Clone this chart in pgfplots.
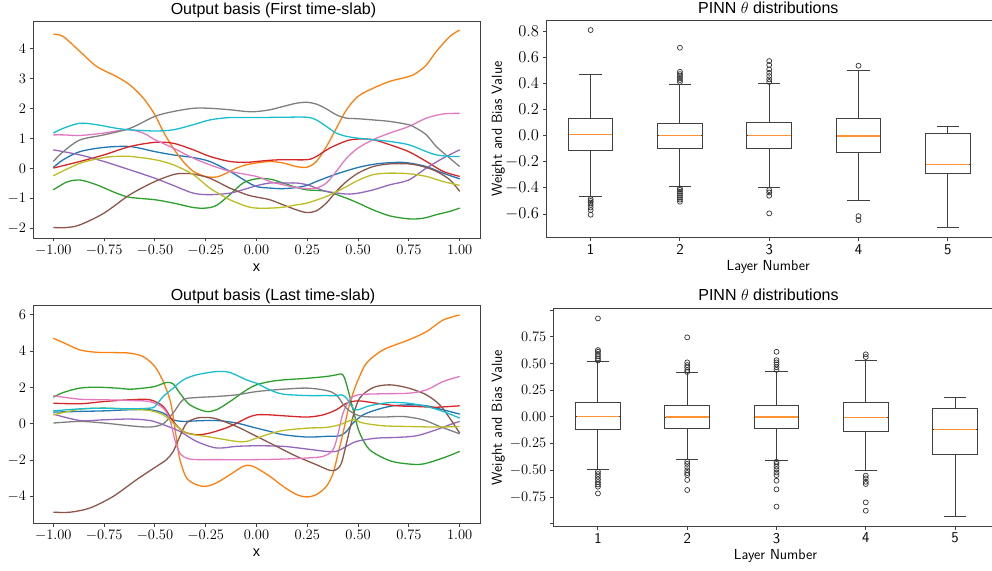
\RequirePackage{fix-cm}
\documentclass[border=0pt]{standalone}
\usepackage{fontspec}
\newfontfamily\arial{Liberation Sans}
\usepackage{pgfplots}
\usepgfplotslibrary{statistics}
\pgfplotsset{compat=1.18}
\definecolor{c0}{HTML}{1F77B4}
\definecolor{c1}{HTML}{FF7F0E}
\definecolor{c2}{HTML}{2CA02C}
\definecolor{c3}{HTML}{D62728}
\definecolor{c4}{HTML}{9467BD}
\definecolor{c5}{HTML}{8C564B}
\definecolor{c6}{HTML}{E377C2}
\definecolor{c7}{HTML}{7F7F7F}
\definecolor{c8}{HTML}{BCBD22}
\definecolor{c9}{HTML}{17BECF}
\pgfplotsset{
  myaxis/.style={scale only axis, anchor=south west,
    axis line style={draw=black!75, line width=0.9pt},
    every tick/.style={black!75, line width=0.9pt},
    tick align=outside, major tick length=3.5pt,
    xtick pos=lower, ytick pos=left,
    tick label style={font=\fontsize{14.5}{15}\selectfont},
    every axis title shift=0pt,
    title style={font=\arial\fontsize{16}{18}\selectfont, anchor=base, yshift=0pt, inner sep=0pt},
  },
  lineaxis/.style={myaxis, width=447pt, height=217pt, xmin=-1.1, xmax=1.1,
    xtick={-1,-0.75,-0.5,-0.25,0,0.25,0.5,0.75,1},
    xticklabel style={/pgf/number format/.cd, fixed, fixed zerofill, precision=2},
    xlabel={x}, xlabel style={font=\arial\fontsize{14.5}{15}\selectfont, anchor=center},
  },
  ln/.style={line width=1.3pt, smooth},
  boxaxis/.style={myaxis, width=446.4pt, height=217.7pt, xmin=0.5, xmax=5.5,
    boxplot/draw direction=y,
    xtick={1,2,3,4,5}, xticklabels={1,2,3,4,5},
    xticklabel style={font=\sffamily\fontsize{15}{15}\selectfont},
    xlabel={Layer Number}, ylabel={Weight and Bias Value},
    label style={font=\sffamily\fontsize{14.5}{15}\selectfont},
    title={\arial PINN $\theta$ distributions},
  },
  bp/.style={draw=black!75, line width=1pt, mark=o, mark size=2.5pt,
    mark options={line width=0.7pt, draw=black!80, fill=none}},
  med/.style={draw=c1!85, line width=1.3pt, forget plot},
}
\begin{document}
\begin{tikzpicture}[x=1pt,y=1pt]
\useasboundingbox (0,0) rectangle (992,570);
\clip (0,0) rectangle (992,570);

% ---------------- top left ----------------
\begin{axis}[lineaxis, at={(33pt,332pt)}, ymin=-2.33, ymax=4.93,
  ytick={-2,-1,0,1,2,3,4},
  title={Output basis (First time-slab)},
  title style={at={(axis description cs:0.538,1.028)}},
  xlabel style={at={(axis description cs:0.5,-0.138)}}]
\addplot[c0, ln] coordinates {(-1,0.03) (-0.951,0.29) (-0.869,0.56) (-0.751,0.7) (-0.623,0.73) (-0.5,0.56) (-0.41,0.45) (-0.311,0.36) (-0.23,0.23) (-0.131,-0.1) (-0.049,-0.44) (0,-0.61) (0.066,-0.66) (0.131,-0.68) (0.197,-0.64) (0.249,-0.57) (0.295,-0.44) (0.393,-0.19) (0.5,0.03) (0.590,0.15) (0.689,0.2) (0.749,0.18) (0.836,0.06) (0.918,-0.16) (1,-0.35)};
\addplot[c1, ln] coordinates {(-1,4.49) (-0.951,4.41) (-0.869,3.91) (-0.787,3.41) (-0.689,3.07) (-0.623,2.79) (-0.557,2.35) (-0.5,1.79) (-0.459,1.23) (-0.41,0.68) (-0.361,0.23) (-0.311,-0.1) (-0.251,-0.27) (-0.197,-0.29) (-0.148,-0.16) (-0.098,0.01) (-0.049,0.12) (0,0.18) (0.066,0.23) (0.131,0.18) (0.197,0.06) (0.249,0.04) (0.295,0.23) (0.344,0.73) (0.393,1.34) (0.443,1.96) (0.5,2.41) (0.574,2.68) (0.656,2.91) (0.749,3.07) (0.787,3.19) (0.836,3.46) (0.885,3.91) (0.951,4.41) (1,4.63)};
\addplot[c2, ln] coordinates {(-1,-0.72) (-0.934,-0.46) (-0.869,-0.39) (-0.787,-0.55) (-0.689,-0.83) (-0.623,-0.97) (-0.5,-1.05) (-0.41,-1.16) (-0.311,-1.31) (-0.251,-1.33) (-0.197,-1.24) (-0.131,-0.88) (-0.066,-0.49) (0,-0.35) (0.066,-0.36) (0.131,-0.49) (0.197,-0.64) (0.249,-0.72) (0.344,-0.77) (0.443,-1.0) (0.5,-1.16) (0.574,-1.39) (0.656,-1.59) (0.749,-1.69) (0.820,-1.67) (0.885,-1.55) (0.951,-1.44) (1,-1.33)};
\addplot[c3, ln] coordinates {(-1,0.01) (-0.869,0.23) (-0.751,0.45) (-0.623,0.73) (-0.5,0.87) (-0.41,0.84) (-0.311,0.62) (-0.23,0.4) (-0.131,0.23) (-0.049,0.2) (0,0.23) (0.066,0.27) (0.131,0.29) (0.249,0.29) (0.295,0.4) (0.361,0.68) (0.443,0.92) (0.5,0.98) (0.574,0.96) (0.656,0.79) (0.749,0.56) (0.836,0.23) (0.918,-0.1) (1,-0.27)};
\addplot[c4, ln] coordinates {(-1,0.62) (-0.869,0.45) (-0.751,0.23) (-0.623,-0.05) (-0.5,-0.33) (-0.41,-0.57) (-0.311,-0.83) (-0.23,-0.88) (-0.131,-0.83) (-0.049,-0.68) (0,-0.58) (0.066,-0.49) (0.131,-0.49) (0.197,-0.49) (0.249,-0.55) (0.295,-0.66) (0.344,-0.77) (0.443,-0.86) (0.5,-0.83) (0.574,-0.72) (0.656,-0.55) (0.749,-0.39) (0.836,0.01) (0.918,0.34) (1,0.62)};
\addplot[c5, ln] coordinates {(-1,-1.98) (-0.934,-1.98) (-0.869,-1.89) (-0.751,-1.5) (-0.623,-0.88) (-0.5,-0.44) (-0.41,-0.21) (-0.361,-0.17) (-0.311,-0.19) (-0.23,-0.33) (-0.131,-0.66) (-0.049,-0.88) (0,-0.96) (0.066,-1.05) (0.131,-1.22) (0.197,-1.39) (0.249,-1.48) (0.295,-1.42) (0.344,-1.16) (0.393,-0.77) (0.443,-0.44) (0.5,-0.16) (0.574,0.06) (0.656,0.15) (0.749,0.15) (0.820,0.06) (0.885,-0.1) (0.951,-0.38) (1,-0.77)};
\addplot[c6, ln] coordinates {(-1,1.12) (-0.951,1.12) (-0.869,1.1) (-0.751,1.18) (-0.689,1.25) (-0.623,1.29) (-0.557,1.18) (-0.5,0.96) (-0.41,0.68) (-0.311,0.34) (-0.23,0.12) (-0.131,-0.1) (0,-0.27) (0.066,-0.44) (0.131,-0.55) (0.197,-0.64) (0.249,-0.68) (0.295,-0.66) (0.344,-0.49) (0.393,-0.1) (0.443,0.34) (0.5,0.68) (0.574,0.96) (0.656,1.18) (0.749,1.4) (0.836,1.68) (0.918,1.82) (1,1.84)};
\addplot[c7, ln] coordinates {(-1,0.23) (-0.951,0.56) (-0.869,0.95) (-0.751,1.12) (-0.623,1.34) (-0.5,1.74) (-0.41,1.9) (-0.311,2.01) (-0.23,2.01) (-0.131,1.96) (-0.049,1.9) (0,1.9) (0.066,1.96) (0.131,2.07) (0.197,2.18) (0.249,2.21) (0.295,2.15) (0.344,1.99) (0.393,1.79) (0.443,1.68) (0.5,1.66) (0.574,1.62) (0.656,1.57) (0.749,1.46) (0.787,1.34) (0.836,1.12) (0.885,0.73) (0.951,0.34) (1,0.06)};
\addplot[c8, ln] coordinates {(-1,-0.25) (-0.869,0.17) (-0.751,0.36) (-0.689,0.4) (-0.623,0.4) (-0.5,0.29) (-0.41,0.12) (-0.311,-0.21) (-0.23,-0.66) (-0.131,-1.05) (-0.049,-1.27) (0,-1.33) (0.066,-1.33) (0.131,-1.3) (0.197,-1.22) (0.249,-1.16) (0.344,-0.94) (0.443,-0.61) (0.5,-0.4) (0.574,-0.21) (0.656,-0.16) (0.749,-0.18) (0.836,-0.27) (0.918,-0.44) (1,-0.57)};
\addplot[c9, ln] coordinates {(-1,1.18) (-0.951,1.34) (-0.869,1.51) (-0.787,1.46) (-0.689,1.34) (-0.623,1.29) (-0.5,1.25) (-0.41,1.29) (-0.311,1.46) (-0.23,1.62) (-0.131,1.7) (0,1.7) (0.131,1.71) (0.249,1.71) (0.295,1.62) (0.344,1.4) (0.393,1.18) (0.443,1.07) (0.5,1.01) (0.574,0.96) (0.656,0.9) (0.749,0.79) (0.836,0.56) (0.885,0.45) (0.951,0.4) (1,0.4)};
\end{axis}

% ---------------- bottom left ----------------
\begin{axis}[lineaxis, at={(33pt,46.7pt)}, height=217.6pt, ymin=-5.47, ymax=6.49,
  ytick={-4,-2,0,2,4,6},
  title={Output basis (Last time-slab)},
  title style={at={(axis description cs:0.537,1.026)}},
  xlabel style={at={(axis description cs:0.5,-0.136)}}]
\addplot[c0, ln] coordinates {(-1,0.64) (-0.869,0.68) (-0.751,0.71) (-0.623,0.77) (-0.525,0.77) (-0.459,0.59) (-0.41,0.22) (-0.361,0.13) (-0.295,0.16) (-0.197,0.18) (-0.098,0.04) (0,-0.24) (0.066,-0.42) (0.131,-0.6) (0.249,-0.73) (0.344,-0.69) (0.410,-0.66) (0.443,-0.42) (0.475,0.04) (0.525,0.49) (0.590,0.77) (0.672,0.99) (0.754,1.04) (0.836,0.99) (0.918,0.77) (1,0.53)};
\addplot[c1, ln] coordinates {(-1,4.7) (-0.951,4.46) (-0.869,4.06) (-0.787,3.93) (-0.689,3.91) (-0.623,3.88) (-0.557,3.69) (-0.5,3.14) (-0.459,2.32) (-0.426,1.32) (-0.41,0.4) (-0.393,-0.88) (-0.377,-1.97) (-0.344,-2.98) (-0.295,-3.35) (-0.251,-3.44) (-0.197,-3.25) (-0.131,-2.8) (-0.066,-2.34) (-0.033,-2.29) (0,-2.43) (0.066,-2.89) (0.131,-3.44) (0.197,-3.89) (0.249,-4.02) (0.295,-3.89) (0.344,-3.44) (0.377,-2.71) (0.402,-1.61) (0.426,-0.51) (0.451,0.77) (0.475,1.68) (0.5,2.41) (0.541,3.33) (0.623,4.06) (0.749,4.61) (0.836,5.06) (0.918,5.7) (1,5.98)};
\addplot[c2, ln] coordinates {(-1,1.46) (-0.951,1.72) (-0.869,1.96) (-0.787,2.01) (-0.689,1.96) (-0.623,1.9) (-0.557,1.96) (-0.5,2.05) (-0.443,2.27) (-0.41,2.19) (-0.377,1.68) (-0.328,1.04) (-0.251,0.68) (-0.197,0.77) (-0.131,1.22) (-0.049,1.86) (0,2.14) (0.066,2.32) (0.131,2.41) (0.249,2.5) (0.344,2.6) (0.393,2.69) (0.418,2.74) (0.434,2.5) (0.459,1.5) (0.484,0.4) (0.508,-0.51) (0.557,-1.43) (0.656,-2.03) (0.749,-2.21) (0.820,-2.21) (0.918,-1.88) (1,-1.52)};
\addplot[c3, ln] coordinates {(-1,1.13) (-0.869,1.1) (-0.751,1.22) (-0.623,1.32) (-0.525,1.32) (-0.459,0.95) (-0.41,0.13) (-0.361,-0.42) (-0.295,-0.6) (-0.23,-0.51) (-0.131,-0.15) (-0.049,0.31) (0,0.49) (0.066,0.49) (0.131,0.44) (0.249,0.37) (0.328,0.49) (0.393,0.77) (0.443,1.13) (0.5,1.26) (0.590,1.13) (0.689,0.99) (0.787,0.95) (0.885,0.91) (1,0.99)};
\addplot[c4, ln] coordinates {(-1,0.53) (-0.869,0.18) (-0.751,0.22) (-0.623,0.26) (-0.525,0.18) (-0.459,-0.05) (-0.377,-0.42) (-0.295,-0.97) (-0.197,-1.33) (-0.098,-1.24) (0,-1.21) (0.131,-1.24) (0.249,-1.39) (0.344,-1.52) (0.393,-1.52) (0.443,-1.24) (0.492,-0.97) (0.590,-0.79) (0.689,-0.75) (0.787,-0.66) (0.885,-0.33) (0.951,-0.05) (1,0.13)};
\addplot[c5, ln] coordinates {(-1,-4.86) (-0.918,-4.86) (-0.820,-4.63) (-0.705,-3.99) (-0.590,-3.07) (-0.492,-2.34) (-0.443,-1.97) (-0.41,-1.52) (-0.377,-0.69) (-0.344,0.04) (-0.295,0.31) (-0.251,0.35) (-0.197,0.27) (-0.098,-0.15) (0,-0.69) (0.098,-1.24) (0.197,-1.79) (0.295,-2.25) (0.361,-2.56) (0.393,-2.52) (0.418,-2.16) (0.443,-1.06) (0.475,0.4) (0.508,1.41) (0.574,1.99) (0.656,2.14) (0.749,1.96) (0.836,1.59) (0.902,1.04) (0.951,0.31) (1,-0.51)};
\addplot[c6, ln] coordinates {(-1,1.54) (-0.869,1.35) (-0.751,1.32) (-0.623,1.28) (-0.525,1.22) (-0.459,0.86) (-0.426,0.22) (-0.402,-0.88) (-0.377,-1.61) (-0.328,-1.94) (-0.197,-1.97) (0,-1.97) (0.131,-1.94) (0.249,-1.88) (0.328,-1.79) (0.377,-1.43) (0.402,-0.51) (0.426,0.59) (0.459,1.32) (0.5,1.59) (0.623,1.65) (0.749,1.68) (0.836,1.86) (0.918,2.32) (1,2.6)};
\addplot[c7, ln] coordinates {(-1,0.04) (-0.869,0.13) (-0.751,0.04) (-0.623,-0.11) (-0.525,-0.18) (-0.459,0) (-0.41,0.59) (-0.361,1.32) (-0.295,1.44) (-0.197,1.5) (-0.098,1.59) (0,1.77) (0.131,1.9) (0.249,1.96) (0.344,1.83) (0.393,1.59) (0.434,0.95) (0.475,0.59) (0.525,0.4) (0.623,0.37) (0.721,0.4) (0.820,0.22) (0.902,-0.15) (1,-0.55)};
\addplot[c8, ln] coordinates {(-1,0.49) (-0.869,0.8) (-0.751,0.86) (-0.623,0.8) (-0.525,0.73) (-0.459,0.49) (-0.41,0.04) (-0.344,-0.51) (-0.251,-0.69) (-0.197,-0.79) (-0.098,-0.97) (-0.049,-0.97) (0,-0.79) (0.066,-0.55) (0.131,-0.37) (0.249,-0.24) (0.344,-0.2) (0.410,-0.05) (0.475,0.22) (0.525,0.04) (0.623,-0.11) (0.749,-0.15) (0.885,-0.18) (1,-0.15)};
\addplot[c9, ln] coordinates {(-1,0.71) (-0.869,0.82) (-0.751,0.86) (-0.623,0.82) (-0.525,0.86) (-0.5,0.95) (-0.459,1.5) (-0.41,1.96) (-0.361,2.41) (-0.295,2.69) (-0.197,2.87) (-0.131,2.82) (-0.049,2.41) (0,2.23) (0.066,1.86) (0.131,1.63) (0.249,1.55) (0.344,1.55) (0.393,1.54) (0.418,1.59) (0.443,1.41) (0.475,0.86) (0.5,0.77) (0.557,0.99) (0.656,1.17) (0.749,1.13) (0.836,0.95) (0.918,0.68) (1,0.31)};
\end{axis}

% ---------------- top right ----------------
\begin{axis}[boxaxis, at={(546pt,332.3pt)}, ymin=-0.781, ymax=0.884,
  ytick={-0.6,-0.4,-0.2,0,0.2,0.4,0.6,0.8},
  yticklabel style={font=\fontsize{16.5}{17}\selectfont, /pgf/number format/.cd, fixed, fixed zerofill, precision=1},
  title style={at={(axis description cs:0.498,1.031)}},
  xlabel style={at={(axis description cs:0.498,-0.152)}, anchor=base},
  ylabel style={at={(axis description cs:-0.107,0.499)}, anchor=center}]
\addplot[bp, boxplot prepared={draw position=1, median=0.009, upper quartile=0.127, lower quartile=-0.116, upper whisker=0.465, lower whisker=-0.468, box extend=0.5, whisker extend=0.25}]
  table[row sep=\\, y index=0]{y\\0.807\\-0.486\\-0.50\\-0.513\\-0.53\\-0.55\\-0.57\\-0.605\\};
\addplot[bp, boxplot prepared={draw position=2, median=0.0, upper quartile=0.096, lower quartile=-0.1, upper whisker=0.394, lower whisker=-0.391, box extend=0.5, whisker extend=0.25}]
  table[row sep=\\, y index=0]{y\\0.672\\0.488\\0.47\\0.455\\0.44\\0.425\\0.41\\-0.404\\-0.415\\-0.43\\-0.445\\-0.46\\-0.475\\-0.49\\-0.506\\};
\addplot[bp, boxplot prepared={draw position=3, median=0.0, upper quartile=0.099, lower quartile=-0.098, upper whisker=0.4, lower whisker=-0.399, box extend=0.5, whisker extend=0.25}]
  table[row sep=\\, y index=0]{y\\0.57\\0.54\\0.506\\0.48\\0.455\\0.43\\0.41\\-0.417\\-0.435\\-0.46\\-0.595\\};
\addplot[bp, boxplot prepared={draw position=4, median=-0.003, upper quartile=0.129, lower quartile=-0.126, upper whisker=0.494, lower whisker=-0.498, box extend=0.5, whisker extend=0.25}]
  table[row sep=\\, y index=0]{y\\0.534\\-0.616\\-0.646\\};
\addplot[bp, boxplot prepared={draw position=5, median=-0.223, upper quartile=0.017, lower quartile=-0.289, upper whisker=0.073, lower whisker=-0.705, box extend=0.5, whisker extend=0.25}]
  coordinates {};
\addplot[med] coordinates {(0.76,0.009) (1.24,0.009)};
\addplot[med] coordinates {(1.76,0.0) (2.24,0.0)};
\addplot[med] coordinates {(2.76,0.0) (3.24,0.0)};
\addplot[med] coordinates {(3.76,-0.003) (4.24,-0.003)};
\addplot[med] coordinates {(4.76,-0.223) (5.24,-0.223)};
\end{axis}

% ---------------- bottom right ----------------
\begin{axis}[boxaxis, at={(553.3pt,44pt)}, ymin=-1.021, ymax=1.016,
  ytick={-1,-0.75,-0.5,-0.25,0,0.25,0.5,0.75,1},
  yticklabels={{},$-0.75$,$-0.50$,$-0.25$,$0.00$,$0.25$,$0.50$,$0.75$,{}},
  title style={at={(axis description cs:0.482,1.037)}},
  xlabel style={at={(axis description cs:0.498,-0.156)}, anchor=base},
  ylabel style={at={(axis description cs:-0.123,0.498)}, anchor=center}]
\addplot[bp, boxplot prepared={draw position=1, median=0.005, upper quartile=0.136, lower quartile=-0.117, upper whisker=0.516, lower whisker=-0.488, box extend=0.5, whisker extend=0.25}]
  table[row sep=\\, y index=0]{y\\0.921\\0.625\\0.609\\0.588\\0.569\\0.547\\0.528\\-0.513\\-0.535\\-0.56\\-0.585\\-0.61\\-0.632\\-0.653\\-0.716\\};
\addplot[bp, boxplot prepared={draw position=2, median=-0.002, upper quartile=0.104, lower quartile=-0.108, upper whisker=0.413, lower whisker=-0.401, box extend=0.5, whisker extend=0.25}]
  table[row sep=\\, y index=0]{y\\0.744\\0.51\\0.485\\0.463\\0.438\\0.42\\-0.419\\-0.44\\-0.47\\-0.5\\-0.525\\-0.544\\-0.59\\-0.684\\};
\addplot[bp, boxplot prepared={draw position=3, median=-0.002, upper quartile=0.108, lower quartile=-0.105, upper whisker=0.422, lower whisker=-0.407, box extend=0.5, whisker extend=0.25}]
  table[row sep=\\, y index=0]{y\\0.609\\0.531\\0.51\\0.49\\0.465\\0.44\\-0.42\\-0.44\\-0.465\\-0.49\\-0.52\\-0.545\\-0.597\\-0.678\\-0.84\\};
\addplot[bp, boxplot prepared={draw position=4, median=-0.008, upper quartile=0.136, lower quartile=-0.133, upper whisker=0.532, lower whisker=-0.5, box extend=0.5, whisker extend=0.25}]
  table[row sep=\\, y index=0]{y\\0.585\\0.56\\-0.55\\-0.575\\-0.607\\-0.628\\-0.8\\-0.878\\};
\addplot[bp, boxplot prepared={draw position=5, median=-0.117, upper quartile=0.076, lower quartile=-0.354, upper whisker=0.186, lower whisker=-0.928, box extend=0.5, whisker extend=0.25}]
  coordinates {};
\addplot[med] coordinates {(0.76,0.005) (1.24,0.005)};
\addplot[med] coordinates {(1.76,-0.002) (2.24,-0.002)};
\addplot[med] coordinates {(2.76,-0.002) (3.24,-0.002)};
\addplot[med] coordinates {(3.76,-0.008) (4.24,-0.008)};
\addplot[med] coordinates {(4.76,-0.117) (5.24,-0.117)};
\end{axis}
\end{tikzpicture}
\end{document}
